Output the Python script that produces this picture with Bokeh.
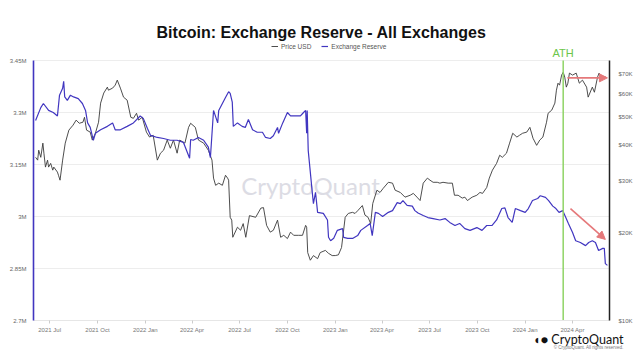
import numpy as np
import pandas as pd
from bokeh.plotting import figure
from bokeh.models import (Range1d, LogScale, LogAxis, FixedTicker, DatetimeTickFormatter,
                          Legend, LegendItem, Title, Label, Arrow, NormalHead,
                          ColumnDataSource)
from bokeh.embed import file_html
from bokeh.resources import INLINE

# ---------------- data ----------------
price_dates = [
    "2021-06-04", "2021-06-08", "2021-06-10", "2021-06-14", "2021-06-18", "2021-06-20", "2021-06-23",
    "2021-06-27", "2021-06-29", "2021-07-03", "2021-07-07", "2021-07-09", "2021-07-16", "2021-07-18",
    "2021-07-21", "2021-07-26", "2021-07-31", "2021-08-07", "2021-08-15", "2021-08-21", "2021-08-27",
    "2021-09-03", "2021-09-06", "2021-09-10", "2021-09-17", "2021-09-21", "2021-09-27", "2021-10-03",
    "2021-10-07", "2021-10-13", "2021-10-20", "2021-10-22", "2021-10-30", "2021-11-04", "2021-11-08",
    "2021-11-14", "2021-11-20", "2021-11-27", "2021-12-04", "2021-12-09", "2021-12-15", "2021-12-19",
    "2021-12-26", "2022-01-03", "2022-01-09", "2022-01-16", "2022-01-24", "2022-01-30", "2022-02-05",
    "2022-02-12", "2022-02-18", "2022-02-24", "2022-03-03", "2022-03-08", "2022-03-18", "2022-03-25",
    "2022-03-29", "2022-04-07", "2022-04-13", "2022-04-23", "2022-05-02", "2022-05-09", "2022-05-12",
    "2022-05-16", "2022-05-22", "2022-05-29", "2022-06-04", "2022-06-08", "2022-06-10", "2022-06-13",
    "2022-06-16", "2022-06-18", "2022-06-27", "2022-07-03", "2022-07-08", "2022-07-13", "2022-07-20",
    "2022-08-01", "2022-08-11", "2022-08-16", "2022-08-22", "2022-08-29", "2022-09-04", "2022-09-12",
    "2022-09-18", "2022-09-24", "2022-10-01", "2022-10-07", "2022-10-13", "2022-10-22", "2022-10-30",
    "2022-11-05", "2022-11-07", "2022-11-09", "2022-11-14", "2022-11-20", "2022-11-28", "2022-12-03",
    "2022-12-13", "2022-12-19", "2022-12-26", "2023-01-01", "2023-01-07", "2023-01-13", "2023-01-20",
    "2023-01-26", "2023-02-03", "2023-02-08", "2023-02-14", "2023-02-22", "2023-02-27", "2023-03-05",
    "2023-03-10", "2023-03-14", "2023-03-22", "2023-03-28", "2023-04-03", "2023-04-13", "2023-04-21",
    "2023-04-26", "2023-05-06", "2023-05-15", "2023-05-25", "2023-05-31", "2023-06-07", "2023-06-13",
    "2023-06-19", "2023-06-27", "2023-07-02", "2023-07-08", "2023-07-16", "2023-07-21", "2023-07-27",
    "2023-08-06", "2023-08-14", "2023-08-18", "2023-08-25", "2023-09-02", "2023-09-07", "2023-09-12",
    "2023-09-21", "2023-09-30", "2023-10-06", "2023-10-11", "2023-10-19", "2023-10-24", "2023-10-30",
    "2023-11-07", "2023-11-13", "2023-11-18", "2023-11-26", "2023-12-02", "2023-12-08", "2023-12-16",
    "2023-12-21", "2023-12-27", "2024-01-04", "2024-01-10", "2024-01-16", "2024-01-23", "2024-01-29",
    "2024-02-04", "2024-02-11", "2024-02-14", "2024-02-21", "2024-02-27", "2024-03-01", "2024-03-04",
    "2024-03-07", "2024-03-11", "2024-03-14", "2024-03-17", "2024-03-20", "2024-03-23", "2024-03-26",
    "2024-04-01", "2024-04-08", "2024-04-11", "2024-04-14", "2024-04-20", "2024-04-28", "2024-05-01",
    "2024-05-09", "2024-05-13", "2024-05-19", "2024-05-22", "2024-05-27", "2024-05-30", "2024-06-04",
]
price_usd = [
    36300, 35500, 38400, 36300, 40600, 37500, 33600,
    35500, 33600, 34600, 32800, 33600, 32300, 31500,
    30300, 35500, 40600, 45000, 46800, 48700, 47500,
    47900, 49800, 45000, 44300, 41600, 43900, 47900,
    55700, 60300, 63200, 61700, 62700, 64200, 66800,
    62700, 58400, 57000, 49800, 49400, 51400, 48700,
    49800, 44300, 42600, 43200, 35500, 37500, 38400,
    41600, 39000, 41600, 37500, 41600, 40600, 46000,
    47500, 46000, 41600, 40600, 38400, 35500, 30800,
    29100, 29600, 29100, 31500, 30800, 30300, 22600,
    22100, 19300, 20900, 20400, 21500, 19300, 22900,
    22600, 24300, 24400, 21200, 20100, 20400, 22100,
    19300, 19600, 19100, 20100, 19600, 19600, 19600,
    21200, 20900, 17100, 16100, 16700, 16300, 17100,
    17400, 17000, 16700, 16700, 16800, 17800, 22600,
    23300, 23500, 23300, 23900, 24800, 23000, 22600,
    21500, 25200, 28000, 27500, 28400, 29800, 29600,
    28000, 27500, 26500, 26900, 27300, 26500, 25800,
    29600, 30800, 30300, 29800, 29800, 29600, 29800,
    29600, 29600, 26900, 26900, 26300, 26500, 25800,
    26500, 26900, 27500, 27300, 28600, 30800, 32800,
    34600, 36900, 36300, 37500, 40600, 43900, 42600,
    43200, 43900, 44300, 46000, 42200, 39900, 41600,
    42600, 47900, 51400, 52700, 55700, 61700, 65200,
    64200, 69500, 71100, 68400, 63200, 65200, 70600,
    69500, 70600, 67900, 65200, 66800, 63200, 58400,
    63200, 60700, 68400, 70600, 67900, 68400, 68400,
]

reserve_dates = [
    "2021-06-04", "2021-06-14", "2021-06-19", "2021-06-29", "2021-07-08", "2021-07-16", "2021-07-20",
    "2021-07-26", "2021-07-28", "2021-07-30", "2021-08-04", "2021-08-10", "2021-08-16", "2021-08-25",
    "2021-09-02", "2021-09-08", "2021-09-12", "2021-09-17", "2021-09-23", "2021-09-27", "2021-10-07",
    "2021-10-20", "2021-10-30", "2021-11-04", "2021-11-14", "2021-11-27", "2021-12-09", "2021-12-22",
    "2021-12-28", "2022-01-05", "2022-01-11", "2022-01-24", "2022-02-05", "2022-02-18", "2022-03-03",
    "2022-03-15", "2022-03-27", "2022-03-29", "2022-04-03", "2022-04-13", "2022-04-23", "2022-05-02",
    "2022-05-06", "2022-05-12", "2022-05-20", "2022-05-22", "2022-05-29", "2022-06-04", "2022-06-10",
    "2022-06-13", "2022-06-17", "2022-06-19", "2022-06-27", "2022-07-06", "2022-07-12", "2022-07-18",
    "2022-07-26", "2022-08-04", "2022-08-14", "2022-08-20", "2022-08-29", "2022-09-04", "2022-09-12",
    "2022-09-14", "2022-09-22", "2022-10-01", "2022-10-07", "2022-10-17", "2022-10-26", "2022-11-01",
    "2022-11-05", "2022-11-07", "2022-11-08", "2022-11-10", "2022-11-18", "2022-11-20", "2022-11-24",
    "2022-11-28", "2022-12-09", "2022-12-17", "2022-12-19", "2022-12-23", "2022-12-29", "2023-01-05",
    "2023-01-15", "2023-01-17", "2023-01-25", "2023-02-04", "2023-02-13", "2023-02-19", "2023-03-04",
    "2023-03-09", "2023-03-13", "2023-03-19", "2023-03-25", "2023-04-02", "2023-04-13", "2023-04-21",
    "2023-04-30", "2023-05-06", "2023-05-11", "2023-05-19", "2023-05-29", "2023-06-03", "2023-06-09",
    "2023-06-19", "2023-06-28", "2023-07-08", "2023-07-21", "2023-07-31", "2023-08-09", "2023-08-19",
    "2023-08-28", "2023-09-07", "2023-09-17", "2023-09-30", "2023-10-10", "2023-10-19", "2023-10-29",
    "2023-11-07", "2023-11-17", "2023-11-23", "2023-11-29", "2023-12-07", "2023-12-13", "2023-12-23",
    "2024-01-01", "2024-01-07", "2024-01-15", "2024-01-25", "2024-01-30", "2024-02-09", "2024-02-15",
    "2024-02-23", "2024-02-29", "2024-03-06", "2024-03-13", "2024-03-19", "2024-03-24", "2024-04-01",
    "2024-04-07", "2024-04-16", "2024-04-26", "2024-05-02", "2024-05-09", "2024-05-15", "2024-05-21",
    "2024-05-29", "2024-06-01", "2024-06-03", "2024-06-07",
]
reserve_m = [
    3.277, 3.314, 3.326, 3.306, 3.300, 3.290, 3.350,
    3.370, 3.390, 3.345, 3.335, 3.350, 3.345, 3.340,
    3.326, 3.306, 3.270, 3.257, 3.220, 3.240, 3.250,
    3.260, 3.270, 3.250, 3.250, 3.260, 3.270, 3.290,
    3.283, 3.254, 3.234, 3.228, 3.225, 3.220, 3.220,
    3.214, 3.168, 3.222, 3.220, 3.228, 3.220, 3.200,
    3.170, 3.306, 3.270, 3.306, 3.326, 3.343, 3.360,
    3.355, 3.330, 3.260, 3.270, 3.260, 3.257, 3.280,
    3.250, 3.243, 3.243, 3.228, 3.225, 3.233, 3.257,
    3.240, 3.270, 3.300, 3.290, 3.290, 3.290, 3.300,
    3.306, 3.240, 3.306, 3.190, 3.066, 3.037, 3.070,
    3.012, 3.009, 2.990, 2.940, 2.930, 2.937, 2.960,
    2.965, 2.940, 2.937, 2.937, 2.945, 2.960, 2.974,
    2.980, 2.945, 3.012, 3.009, 3.000, 3.012, 3.017,
    3.040, 3.037, 3.046, 3.032, 3.030, 3.017, 3.010,
    3.003, 2.997, 2.994, 2.990, 2.994, 2.983, 2.974,
    2.980, 2.965, 2.960, 2.968, 2.960, 2.974, 2.974,
    2.990, 3.023, 3.025, 2.997, 2.983, 3.023, 3.017,
    3.012, 3.023, 3.046, 3.052, 3.060, 3.055, 3.046,
    3.030, 3.023, 3.012, 3.017, 2.997, 2.980, 2.954,
    2.930, 2.925, 2.916, 2.925, 2.930, 2.925, 2.902,
    2.908, 2.908, 2.864, 2.859,
]

x_tick_dates = ["2021-07-01", "2021-10-01", "2022-01-01", "2022-04-01", "2022-07-01", "2022-10-01",
                "2023-01-01", "2023-04-01", "2023-07-01", "2023-10-01", "2024-01-01", "2024-04-01"]
reserve_ticks = [2700000, 2850000, 3000000, 3150000, 3300000, 3450000]
reserve_tick_labels = ["2.7M", "2.85M", "3M", "3.15M", "3.3M", "3.45M"]
price_ticks = [10000, 20000, 30000, 40000, 50000, 60000, 70000]
price_tick_labels = ["$10K", "$20K", "$30K", "$40K", "$50K", "$60K", "$70K"]

ath_date = "2024-03-14"
x_window = ["2021-05-31", "2024-06-11"]
reserve_window = [2700000, 3450000]
price_window = [10000, 78000]

# annotation arrows: (start date, start value, end date, end value)
price_arrow = ["2024-03-22", 68000, "2024-06-07", 68000]
reserve_arrow = ["2024-03-28", 3023000, "2024-06-03", 2934000]

# ---------------- layout ----------------
W, H = 640, 360
BORDER_L, BORDER_R, BORDER_T, BORDER_B = 33, 31, 40, 40
FRAME_H = H - BORDER_T - BORDER_B        # frame also hosts the legend / ATH strip
DATA_H = 260                              # height of the axes' data band
EXT = FRAME_H / DATA_H

def ms(d):
    return pd.Timestamp(d).value / 1e6

reserve_top = reserve_window[0] + (reserve_window[1] - reserve_window[0]) * EXT
lp0, lp1 = np.log10(price_window[0]), np.log10(price_window[1])
price_top = 10 ** (lp0 + (lp1 - lp0) * EXT)

PURPLE = "#4136c0"
FONT = "Liberation Sans"

price_src = ColumnDataSource(dict(date=pd.to_datetime(price_dates), price=price_usd))
reserve_src = ColumnDataSource(dict(date=pd.to_datetime(reserve_dates),
                                    reserve=np.array(reserve_m) * 1e6))

p = figure(width=W, height=H, x_axis_type="datetime",
           x_range=Range1d(ms(x_window[0]), ms(x_window[1])),
           y_range=Range1d(reserve_window[0], reserve_top),
           output_backend="svg", toolbar_location=None,
           min_border_left=BORDER_L, min_border_right=BORDER_R,
           min_border_top=BORDER_T, min_border_bottom=BORDER_B)
p.outline_line_color = None
p.background_fill_color = "white"
p.border_fill_color = "white"

p.extra_y_ranges = {"price": Range1d(price_window[0], price_top)}
p.extra_y_scales = {"price": LogScale()}

# grid
p.xgrid.visible = False
p.ygrid.grid_line_color = "#ededed"
p.ygrid.grid_line_width = 1

# watermark
p.add_layout(Label(x=277, y=135, x_units="screen", y_units="screen", text="CryptoQuant",
                   text_align="center", text_baseline="middle", text_font="Lato",
                   text_font_size="24px", text_color="#dcdce4", level="underlay"))

# lines
price_line = p.line("date", "price", source=price_src, y_range_name="price",
                    line_color="#3a3a3a", line_width=0.9)
reserve_line = p.line("date", "reserve", source=reserve_src,
                      line_color=PURPLE, line_width=1.2)

# ATH marker
p.segment(x0=[pd.Timestamp(ath_date)], y0=[reserve_window[0]],
          x1=[pd.Timestamp(ath_date)], y1=[reserve_window[1]],
          line_color="#8fd466", line_width=1.5)
p.add_layout(Label(x=ms(ath_date), y=DATA_H + 8, y_units="screen", text="ATH",
                   text_align="center", text_baseline="middle", text_font=FONT,
                   text_font_size="11px", text_color="#6cc64a"))

# arrows
ARROW = "#e5787a"
p.add_layout(Arrow(x_start=ms(price_arrow[0]), y_start=price_arrow[1],
                   x_end=ms(price_arrow[2]), y_end=price_arrow[3], y_range_name="price",
                   line_color=ARROW, line_width=1.6,
                   end=NormalHead(size=8, fill_color=ARROW, line_color=ARROW)))
p.add_layout(Arrow(x_start=ms(reserve_arrow[0]), y_start=reserve_arrow[1],
                   x_end=ms(reserve_arrow[2]), y_end=reserve_arrow[3],
                   line_color=ARROW, line_width=1.6,
                   end=NormalHead(size=8, fill_color=ARROW, line_color=ARROW)))

# x axis
xa = p.xaxis[0]
xa.ticker = FixedTicker(ticks=[ms(d) for d in x_tick_dates])
fmt = "%Y %b"
xa.formatter = DatetimeTickFormatter(years=fmt, months=fmt, days=fmt, hours=fmt, hourmin=fmt,
                                     minutes=fmt, minsec=fmt, seconds=fmt, milliseconds=fmt,
                                     microseconds=fmt)
xa.axis_line_color = "#e6e6e6"
xa.major_tick_line_color = "#cccccc"
xa.major_tick_out = 3
xa.major_tick_in = 0
xa.minor_tick_line_color = None
xa.major_label_text_font = FONT
xa.major_label_text_font_size = "6px"
xa.major_label_text_color = "#777777"
xa.major_label_standoff = 3

# left axis (reserve)
ya = p.yaxis[0]
ya.ticker = FixedTicker(ticks=reserve_ticks)
ya.bounds = (reserve_window[0], reserve_window[1])
ya.major_label_overrides = dict(zip(reserve_ticks, reserve_tick_labels))
ya.axis_line_color = PURPLE
ya.axis_line_width = 1.6
ya.major_tick_line_color = None
ya.minor_tick_line_color = None
ya.major_label_text_font = FONT
ya.major_label_text_font_size = "6px"
ya.major_label_text_color = "#666666"
ya.major_label_standoff = 1

# right axis (price, log)
ra = LogAxis(y_range_name="price", ticker=FixedTicker(ticks=price_ticks),
             bounds=(price_window[0], price_window[1]),
             major_label_overrides=dict(zip(price_ticks, price_tick_labels)))
ra.axis_line_color = "#222222"
ra.axis_line_width = 1.5
ra.major_tick_line_color = None
ra.minor_tick_line_color = None
ra.major_label_text_font = FONT
ra.major_label_text_font_size = "6px"
ra.major_label_text_color = "#666666"
ra.major_label_standoff = 3
p.add_layout(ra, "right")

# legend in the strip above the data band (location = bottom-left corner, frame pixels)
legend = Legend(items=[LegendItem(label="Price USD", renderers=[price_line]),
                       LegendItem(label="Exchange Reserve", renderers=[reserve_line])],
                orientation="horizontal", location=(237, FRAME_H - 11),
                label_text_font=FONT, label_text_font_size="6.5px", label_text_color="#555555",
                glyph_width=7, glyph_height=8, label_height=8, label_standoff=3, spacing=10,
                padding=1, margin=0, border_line_alpha=0, background_fill_alpha=0)
p.add_layout(legend, "center")

p.add_layout(Title(text="Bitcoin: Exchange Reserve - All Exchanges", align="center",
                   text_font=FONT, text_font_size="16px", text_font_style="bold",
                   text_color="#111111", standoff=0), "above")

# logo + copyright below the x axis
p.add_layout(Title(text="◖● CryptoQuant", align="right", offset=-14, standoff=-8,
                   vertical_align="top",
                   text_font="Lato", text_font_size="12.5px", text_font_style="normal",
                   text_color="#111111"), "below")
p.add_layout(Title(text="© CryptoQuant. All rights reserved.", align="right", offset=-14,
                   standoff=0, vertical_align="top", text_font=FONT, text_font_size="4.5px",
                   text_font_style="normal", text_color="#777777"), "below")

open("out.html", "w").write(file_html(p, INLINE))
